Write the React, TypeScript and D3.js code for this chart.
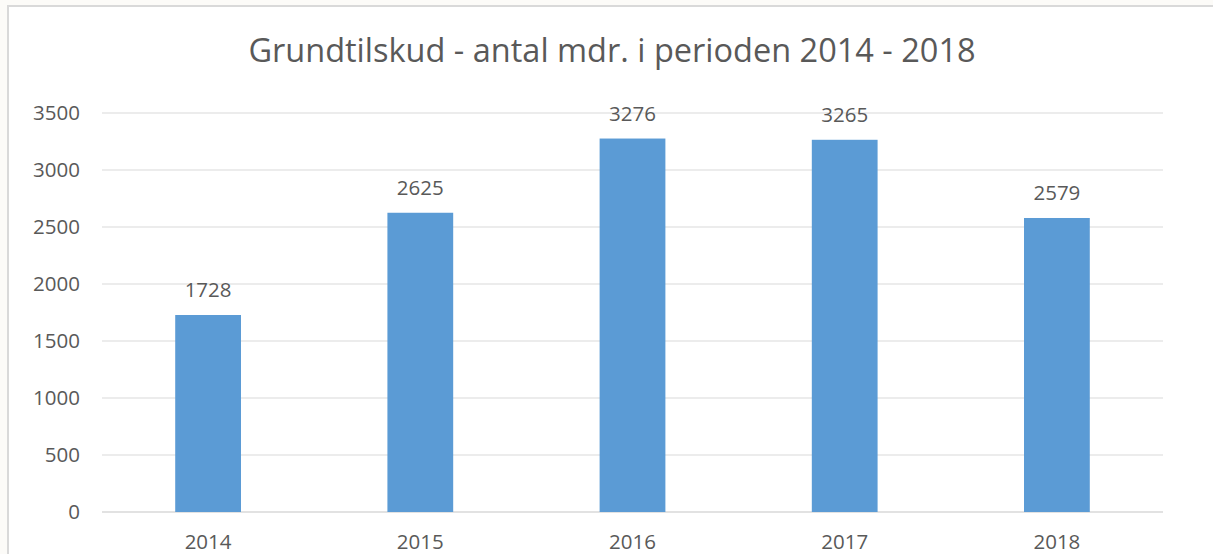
import React from "react"
import * as d3 from "d3"

const years = ["2014", "2015", "2016", "2017", "2018"]
const months = [1728, 2625, 3276, 3265, 2579]
const yTicks = [0, 500, 1000, 1500, 2000, 2500, 3000, 3500]
const title = "Grundtilskud - antal mdr. i perioden 2014 - 2018"

const W = 1213
const H = 554
const left = 102
const right = 1163
const top = 113
const bottom = 512
const font = "'Open Sans', sans-serif"
const textColor = "#595959"
const labelSize = 20.5

export default function App() {
  const x = d3.scaleBand().domain(years).range([left, right]).padding(0)
  const y = d3.scaleLinear().domain([0, 3500]).range([bottom, top])
  const barW = x.bandwidth() * 0.31

  return (
    <svg width={W} height={H} style={{ position: "fixed", left: 0, top: 0 }}>
      <rect x={0} y={0} width={W} height={H} fill="#fcfbf8" />
      <rect x={8} y={6} width={W + 10} height={H + 10} fill="#fff" stroke="#d9d9d9" strokeWidth={2} />
      <text x={612} y={62} textAnchor="middle" fontFamily={font} fontSize={32.5} fill={textColor}>
        {title}
      </text>
      <g className="grid">
        {yTicks.map(t => (
          <line key={t} x1={left} x2={right} y1={y(t)} y2={y(t)} stroke="#d9d9d9" strokeWidth={t === 0 ? 1.5 : 1} />
        ))}
      </g>
      <g className="yaxis">
        {yTicks.map(t => (
          <text key={t} x={80} y={y(t)} dy="0.35em" textAnchor="end" fontFamily={font} fontSize={labelSize} fill={textColor}>
            {t}
          </text>
        ))}
      </g>
      <g className="bars">
        {years.map((yr, i) => {
          const cx = x(yr)! + x.bandwidth() / 2
          return (
            <g key={yr}>
              <rect x={cx - barW / 2} y={y(months[i])} width={barW} height={bottom - y(months[i])} fill="#5b9bd5" />
              <text x={cx} y={y(months[i]) - 18} textAnchor="middle" fontFamily={font} fontSize={labelSize} fill={textColor}>
                {months[i]}
              </text>
              <text x={cx} y={549} textAnchor="middle" fontFamily={font} fontSize={labelSize} fill={textColor}>
                {yr}
              </text>
            </g>
          )
        })}
      </g>
    </svg>
  )
}
